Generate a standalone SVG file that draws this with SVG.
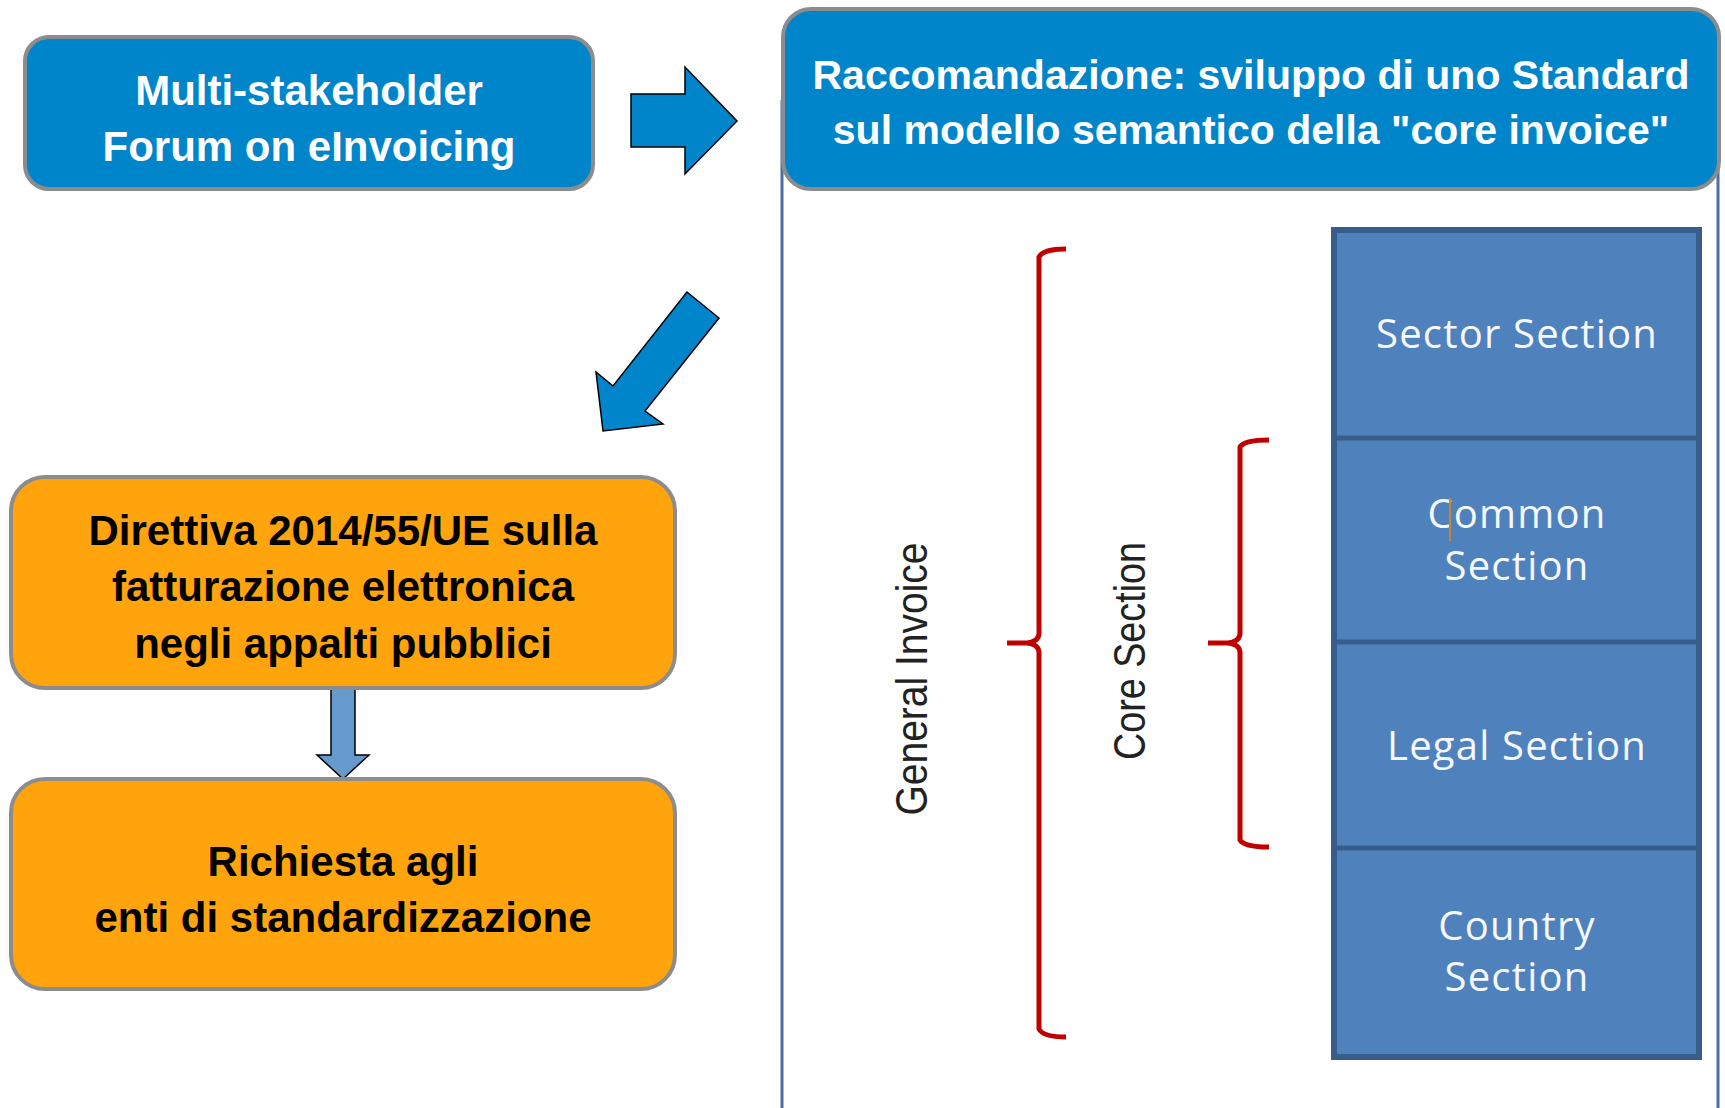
<svg xmlns="http://www.w3.org/2000/svg" width="1725" height="1108" viewBox="0 0 1725 1108">
<style>
.bx{stroke:#8C8C8C;stroke-width:4}
.blue{fill:#0085CA}
.orange{fill:#FFA40C}
.t{font-family:"Liberation Sans",Arial,sans-serif;font-weight:bold;font-size:42px;text-anchor:middle}
.t2{font-size:41px}
.w{fill:#FFFFFF}
.k{fill:#000000}
.arr{fill:#0085CA;stroke:#000;stroke-width:1.5;stroke-linejoin:miter}
.arr2{fill:#6699CC;stroke:#000;stroke-width:1.5}
.cell{font-family:"Open Sans","Liberation Sans",sans-serif;font-size:40px;fill:#F6F8FF;text-anchor:middle;letter-spacing:1.2px}
.rot{font-family:"Liberation Sans",Arial,sans-serif;font-size:44px;fill:#222;text-anchor:middle}
.br{fill:none;stroke:#C00000;stroke-width:5;stroke-linecap:butt;stroke-linejoin:round}
</style>
<rect width="1725" height="1108" fill="#FFFFFF"/>

<g id="frame">
<path d="M782 100 L782 1110 M1718 100 L1718 1110" fill="none" stroke="#4A6FA0" stroke-width="3"/>
</g>

<g id="connectors">
<polygon class="arr" points="631,94 685,94 685,67 737,121 685,174 685,147 631,147"/>
<polygon class="arr" points="687,292 719,318 645,411 663,424 603,431 596,372 613,386"/>
<polygon class="arr2" points="331,689 355,689 355,755 369,755 343,779 317,755 331,755"/>
</g>

<g id="node-forum">
<rect class="bx blue" x="25" y="37" width="568" height="152" rx="24"/>
<text class="t w" x="309" y="105">Multi-stakeholder</text>
<text class="t w" x="309" y="161">Forum on eInvoicing</text>
</g>

<g id="node-raccomandazione">
<rect class="bx blue" x="783" y="9" width="936" height="180" rx="28"/>
<text class="t t2 w" x="1251" y="89">Raccomandazione: sviluppo di uno Standard</text>
<text class="t t2 w" x="1251" y="144">sul modello semantico della "core invoice"</text>
</g>

<g id="node-direttiva">
<rect class="bx orange" x="11" y="477" width="664" height="211" rx="34"/>
<text class="t k" x="343" y="545">Direttiva 2014/55/UE sulla</text>
<text class="t k" x="343" y="601">fatturazione elettronica</text>
<text class="t k" x="343" y="658">negli appalti pubblici</text>
</g>

<g id="node-richiesta">
<rect class="bx orange" x="11" y="779" width="664" height="210" rx="34"/>
<text class="t k" x="343" y="876">Richiesta agli</text>
<text class="t k" x="343" y="932">enti di standardizzazione</text>
</g>

<g id="node-stack">
<rect x="1334" y="230" width="365" height="827" fill="#4F81BD" stroke="#385D8A" stroke-width="6"/>
<path d="M1334 438 L1699 438 M1334 642 L1699 642 M1334 848 L1699 848" stroke="#385D8A" stroke-width="5"/>
<text class="cell" x="1517" y="348">Sector Section</text>
<text class="cell" x="1517" y="528">Common</text>
<text class="cell" x="1517" y="580">Section</text>
<line x1="1450" y1="498" x2="1450" y2="541" stroke="#C8862E" stroke-width="2"/>
<text class="cell" x="1517" y="760">Legal Section</text>
<text class="cell" x="1517" y="940">Country</text>
<text class="cell" x="1517" y="991">Section</text>
</g>

<g id="node-general-invoice">
<path class="br" d="M1066 249 Q1043 249 1039 257 L1039 634 Q1038 642 1027 643 L1007 643 M1027 643 Q1038 644 1039 652 L1039 1029 Q1043 1037 1066 1037"/>
<text class="rot" transform="translate(927,679) rotate(-90)" textLength="273" lengthAdjust="spacingAndGlyphs">General Invoice</text>
</g>

<g id="node-core-section">
<path class="br" d="M1269 440 Q1244 440 1240 447 L1240 634 Q1239 642 1228 643 L1208 643 M1228 643 Q1239 644 1240 652 L1240 840 Q1244 847 1269 847"/>
<text class="rot" transform="translate(1145,651) rotate(-90)" textLength="218" lengthAdjust="spacingAndGlyphs">Core Section</text>
</g>
</svg>
